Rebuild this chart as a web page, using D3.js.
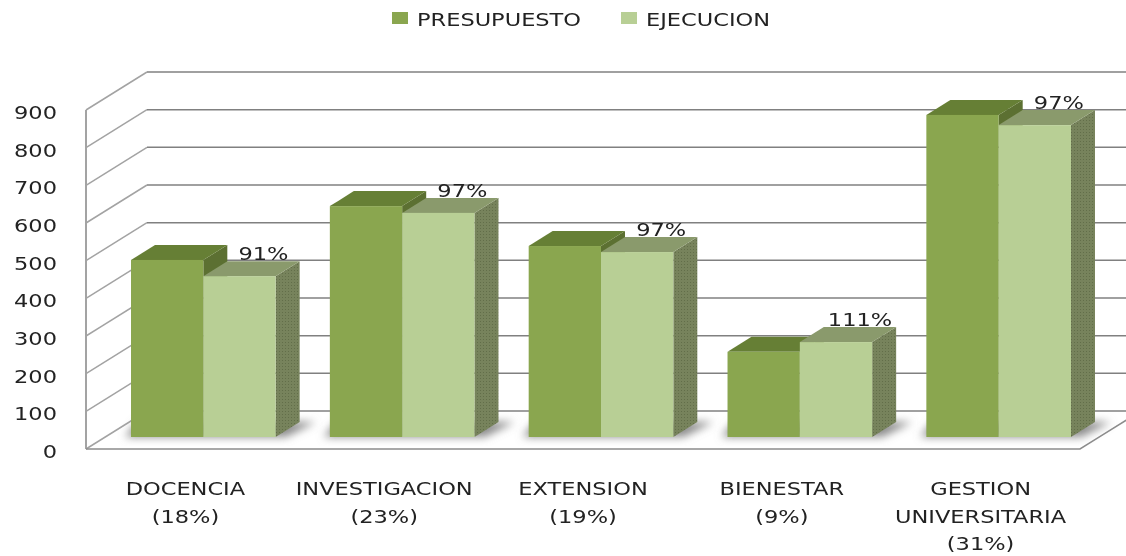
<!DOCTYPE html>
<html>
<head>
<meta charset="utf-8">
<script src="https://cdn.jsdelivr.net/npm/d3@7/dist/d3.min.js"></script>
<style>
  body { margin: 0; background: #fff; }
  text { font-family: "DejaVu Sans", sans-serif; font-size: 18px; fill: #222; }
</style>
</head>
<body>
<div id="chart-area"></div>
<script>
const WIDTH = 1126
const HEIGHT = 556

// data
const categories = ["DOCENCIA", "INVESTIGACION", "EXTENSION", "BIENESTAR", "GESTION"]
const categoryLabels = [
	["DOCENCIA", "(18%)"],
	["INVESTIGACION", "(23%)"],
	["EXTENSION", "(19%)"],
	["BIENESTAR", "(9%)"],
	["GESTION", "UNIVERSITARIA", "(31%)"]
]
const seriesNames = ["PRESUPUESTO", "EJECUCION"]
const presupuesto = [470, 613, 507, 226, 855]
const ejecucion = [427, 595, 491, 252, 828]
const percentLabels = ["91%", "97%", "97%", "111%", "97%"]
const yTicks = [0, 100, 200, 300, 400, 500, 600, 700, 800, 900]

// 3d offsets
const WALL = { DX: 61, DY: 38 }
const BAR_PLANE = { DX: 19, DY: 12 }
const BAR_DEPTH = { DX: 24, DY: 15 }
const TEXT_STRETCH = 1.25

const colors = {
	PRESUPUESTO: { front: "#8aa64f", top: "#667f35", side: "#5b7030" },
	EJECUCION: { front: "#b8cf95", top: "#8a9a6c", side: "url(#dither)" }
}

const svg = d3.select("#chart-area").append("svg")
	.attr("width", WIDTH)
	.attr("height", HEIGHT)
	.style("display", "block")

const defs = svg.append("defs")
const soft = defs.append("filter").attr("id", "soft")
	.attr("filterUnits", "userSpaceOnUse")
	.attr("x", 0).attr("y", 0).attr("width", WIDTH).attr("height", HEIGHT)
soft.append("feGaussianBlur").attr("stdDeviation", 0.7)
const shadowBlur = defs.append("filter").attr("id", "shadowBlur")
	.attr("x", "-30%").attr("width", "160%").attr("y", "-60%").attr("height", "220%")
shadowBlur.append("feGaussianBlur").attr("stdDeviation", 4)

const dither = defs.append("pattern").attr("id", "dither")
	.attr("width", 3).attr("height", 3).attr("patternUnits", "userSpaceOnUse")
dither.append("rect").attr("width", 3).attr("height", 3).attr("fill", "#77835b")
dither.append("rect").attr("width", 1).attr("height", 1).attr("fill", "#626e4a")

const g = svg.append("g").attr("filter", "url(#soft)")

// scales
const y = d3.scaleLinear().domain([0, 900]).range([449, 110])
const xAxisBand = d3.scaleBand().domain(categories).range([86, 1080])
const xGroup = d3.scaleBand().domain(categories).range([105, 1097])
	.paddingInner(0.2726).paddingOuter(0.1308)
const xBar = d3.scaleBand().domain(seriesNames).range([0, xGroup.bandwidth()])

// walls
yTicks.forEach(t => {
	const yy = y(t)
	g.append("line")
		.attr("x1", xAxisBand.range()[0]).attr("y1", yy)
		.attr("x2", xAxisBand.range()[0] + WALL.DX).attr("y2", yy - WALL.DY)
		.attr("stroke", "#a3a3a3").attr("stroke-width", 1.5)
	g.append("line")
		.attr("x1", xAxisBand.range()[0] + WALL.DX).attr("y1", yy - WALL.DY)
		.attr("x2", WIDTH).attr("y2", yy - WALL.DY)
		.attr("stroke", "#808080").attr("stroke-width", 1.5)
})

// front axis and floor edge
g.append("line")
	.attr("x1", 86).attr("y1", y(900)).attr("x2", 86).attr("y2", y(0))
	.attr("stroke", "#a3a3a3").attr("stroke-width", 2)
g.append("path")
	.attr("d", `M86,${y(0)}H1080L${1080 + WALL.DX},${y(0) - WALL.DY}`)
	.attr("fill", "none").attr("stroke", "#8c8c8c").attr("stroke-width", 1.5)

// y tick labels
g.selectAll(".y-label").data(yTicks).join("text")
	.attr("class", "y-label")
	.attr("text-anchor", "end")
	.attr("transform", d => `translate(57, ${y(d) + 9}) scale(${TEXT_STRETCH}, 1)`)
	.text(d => d)

// floor shadows
g.selectAll(".shadow").data(categories).join("path")
	.attr("class", "shadow")
	.attr("fill", "#8a8a8a")
	.attr("filter", "url(#shadowBlur)")
	.attr("d", d => {
		const x0 = xGroup(d), x1 = x0 + xGroup.bandwidth(), base = y(0) - BAR_PLANE.DY
		return `M${x0 - 6},${base}H${x1 + 10}L${x1 + BAR_DEPTH.DX + 16},${base - BAR_DEPTH.DY}H${x0 + 6}Z`
	})

// bars
function drawBar(name, values) {
	const c = colors[name]
	const group = g.append("g").attr("class", name)
	const base = y(0) - BAR_PLANE.DY
	const w = xBar.bandwidth()
	const dx = BAR_DEPTH.DX, dy = BAR_DEPTH.DY

	categories.forEach((d, i) => {
		const x0 = xGroup(d) + xBar(name), yt = y(values[i]) - BAR_PLANE.DY
		group.append("path").attr("fill", c.side)
			.attr("d", `M${x0 + w},${yt}L${x0 + w + dx},${yt - dy}V${base - dy}L${x0 + w},${base}Z`)
		group.append("path").attr("fill", c.top)
			.attr("d", `M${x0},${yt}L${x0 + dx},${yt - dy}H${x0 + w + dx}L${x0 + w},${yt}Z`)
		group.append("rect").attr("fill", c.front)
			.attr("x", x0).attr("y", yt).attr("width", w).attr("height", base - yt)
	})
}
drawBar("PRESUPUESTO", presupuesto)
drawBar("EJECUCION", ejecucion)

// percent labels
g.selectAll(".pct").data(categories).join("text")
	.attr("class", "pct")
	.attr("text-anchor", "middle")
	.attr("transform", (d, i) => {
		const cx = xGroup(d) + xBar("EJECUCION") + xBar.bandwidth() / 2 + 24
		return `translate(${cx}, ${y(ejecucion[i]) - BAR_PLANE.DY - 16}) scale(${TEXT_STRETCH}, 1)`
	})
	.text((d, i) => percentLabels[i])

// category labels
const labelRows = [495, 523, 550]
categories.forEach((d, i) => {
	categoryLabels[i].forEach((line, r) => {
		g.append("text")
			.attr("text-anchor", "middle")
			.attr("transform", `translate(${xAxisBand(d) + xAxisBand.bandwidth() / 2}, ${labelRows[r]}) scale(${TEXT_STRETCH}, 1)`)
			.text(line)
	})
})

// legend
const legendX = { PRESUPUESTO: 392, EJECUCION: 621 }
seriesNames.forEach(name => {
	g.append("rect")
		.attr("x", legendX[name]).attr("y", 12)
		.attr("width", 16).attr("height", 12)
		.attr("fill", colors[name].front)
	g.append("text")
		.attr("transform", `translate(${legendX[name] + 25}, 26) scale(${TEXT_STRETCH}, 1)`)
		.text(name)
})
</script>
</body>
</html>
